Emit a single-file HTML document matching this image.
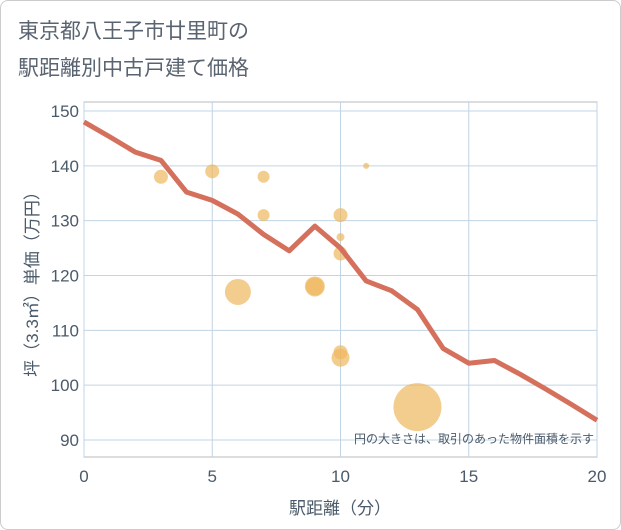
<!DOCTYPE html>
<html><head><meta charset="utf-8"><style>
body{margin:0;background:#fff;font-family:"Liberation Sans","Noto Sans CJK JP",sans-serif;}
#wrap{position:relative;width:619px;height:528px;border:1px solid #ccc;border-radius:8px;background:#fff;}
</style></head><body>
<div id="wrap">
<svg id="svg" width="621" height="530" style="position:absolute;left:-1px;top:-1px">
<text x="18" y="38" font-size="21" fill="#5a6470">東京都八王子市廿里町の</text>
<text x="18" y="75" font-size="21" fill="#5a6470">駅距離別中古戸建て価格</text>
<rect x="84" y="102" width="513" height="355" fill="#fff" stroke="#bbb"/>
<g id="grid"></g><g id="bubbles"></g><g id="line"></g><g id="axes"></g>
<text x="594" y="443" font-size="12" fill="#4a5a6a" text-anchor="end">円の大きさは、取引のあった物件面積を示す</text>
<text x="340" y="514" font-size="17" fill="#4a5a6a" text-anchor="middle">駅距離（分）</text>
<text transform="translate(38,280) rotate(-90)" font-size="17" fill="#4a5a6a" text-anchor="middle">坪（3.3㎡）単価（万円）</text>
</svg></div>
<script>
const xTicks=[0,5,10,15,20];
const yTicks=[90,100,110,120,130,140,150];
const lineX=[0,1,2,3,4,5,6,7,8,9,10,11,12,13,14,15,16,17,18,19,20];
const lineY=[148,145.3,142.5,141,135.2,133.7,131.2,127.5,124.5,129,125,119,117.2,113.8,106.7,104,104.5,102,99.3,96.5,93.6];
const bubX=[3,5,7,7,6,9,9,10,10,10,11,10,10,13];
const bubY=[138,139,138,131,117,118,118,131,127,124,140,106,105,96];
const bubR=[7,7,6,6,13,10,9,7,4,7,3,7,9,24];
const NS="http://www.w3.org/2000/svg";
const X=v=>84+v*25.65, Y=v=>111+(150-v)*5.483;
function mk(t,a,p){const e=document.createElementNS(NS,t);for(const k in a)e.setAttribute(k,a[k]);document.getElementById(p).appendChild(e);return e;}
xTicks.forEach(v=>{
 const l=mk('line',{x1:X(v),x2:X(v),y1:102,y2:457,stroke:'#c0d4e4','stroke-width':1},'grid');
 
 
 const t=mk('text',{x:X(v),y:482,'font-size':17,fill:'#4a5a6a','text-anchor':'middle'},'axes');t.textContent=v;
 
 
});
yTicks.forEach(v=>{
 const l=mk('line',{x1:84,x2:597,y1:Y(v),y2:Y(v),stroke:'#c0d4e4','stroke-width':1},'grid');
 
 
 const t=mk('text',{x:79,y:Y(v)+6,'font-size':17,fill:'#4a5a6a','text-anchor':'end'},'axes');t.textContent=v;
 
 
});
bubX.forEach((v,i)=>{
 const c=mk('circle',{cx:X(v),cy:Y(bubY[i]),r:bubR[i],fill:'#eeb85e','fill-opacity':0.7},'bubbles');
 
 
});
const p=mk('polyline',{points:lineX.map((v,i)=>X(v)+','+Y(lineY[i])).join(' '),fill:'none',stroke:'#d4705c','stroke-width':5,'stroke-linejoin':'round'},'line');


</script>
</body></html>
